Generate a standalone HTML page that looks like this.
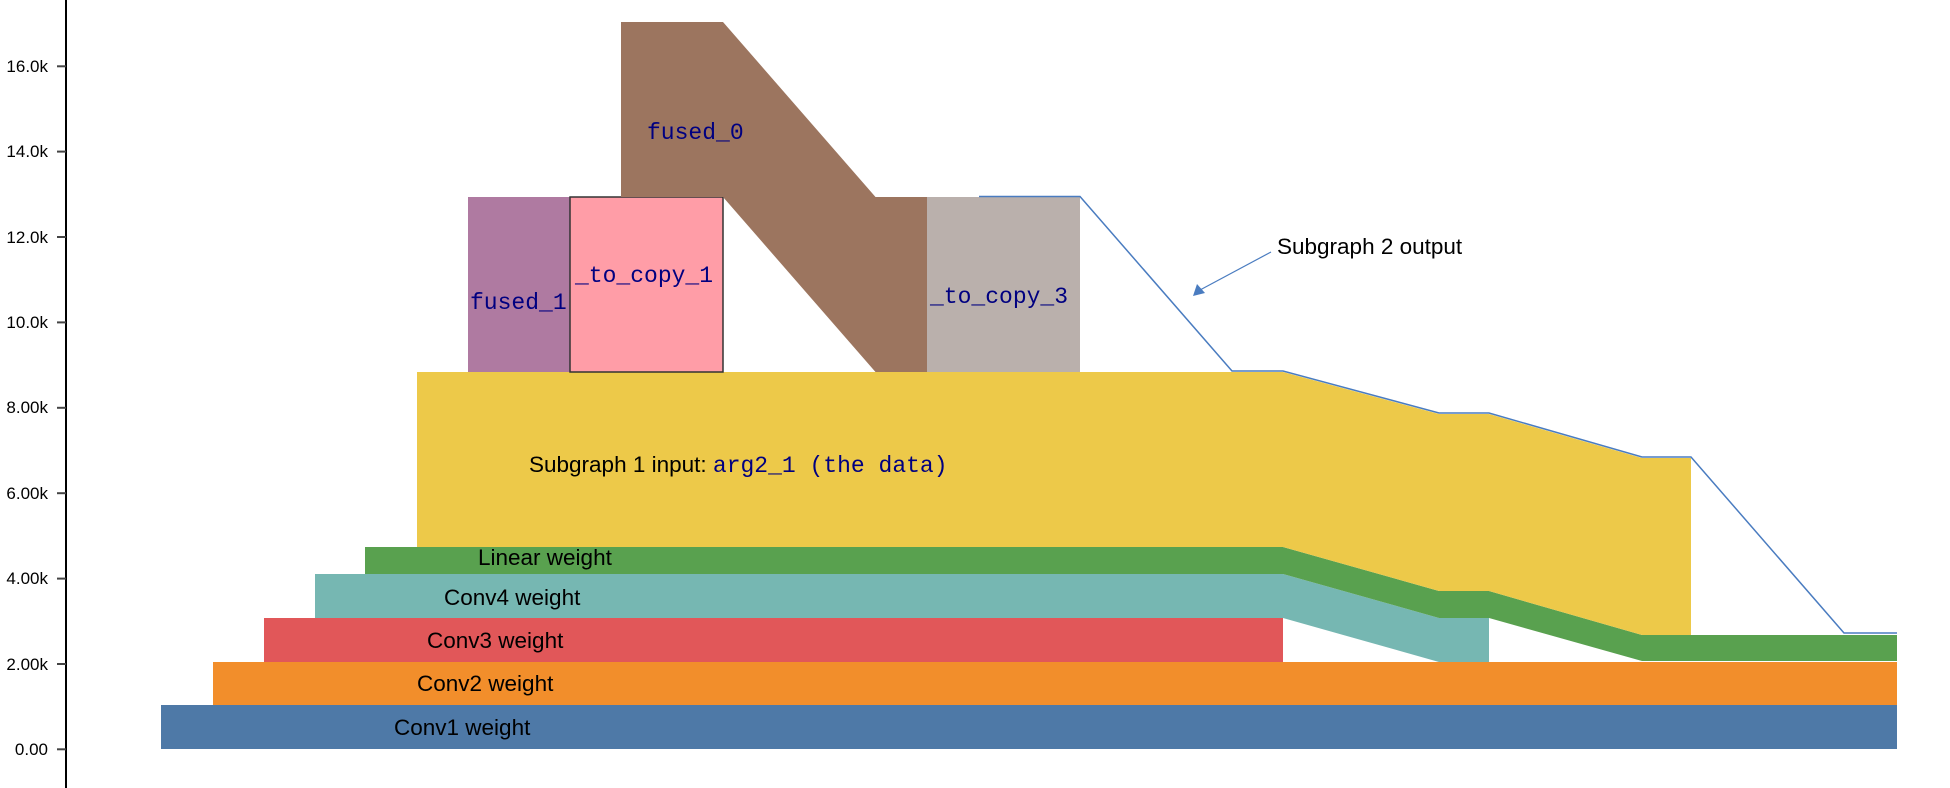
<!DOCTYPE html>
<html><head><meta charset="utf-8"><style>
html,body{margin:0;padding:0;background:#fff;}
svg{display:block;}
.t{font-family:"Liberation Sans",sans-serif;font-size:22.5px;fill:#000;}
.m{font-family:"Liberation Mono",monospace;font-size:23px;fill:#000080;}
.ax{font-family:"Liberation Sans",sans-serif;font-size:17px;fill:#000;}
</style></head><body>
<svg width="1950" height="788" viewBox="0 0 1950 788" xmlns="http://www.w3.org/2000/svg">
<rect width="1950" height="788" fill="#fff"/>
<line x1="66" y1="0" x2="66" y2="788" stroke="#000" stroke-width="2"/>
<g stroke="#444" stroke-width="2">
<line x1="57" y1="66.3" x2="66" y2="66.3"/><line x1="57" y1="151.6" x2="66" y2="151.6"/>
<line x1="57" y1="237" x2="66" y2="237"/><line x1="57" y1="322.4" x2="66" y2="322.4"/>
<line x1="57" y1="407.8" x2="66" y2="407.8"/><line x1="57" y1="493.2" x2="66" y2="493.2"/>
<line x1="57" y1="578.6" x2="66" y2="578.6"/><line x1="57" y1="664" x2="66" y2="664"/>
<line x1="57" y1="749.3" x2="66" y2="749.3"/>
</g>
<g class="ax" text-anchor="end">
<text x="48" y="72">16.0k</text><text x="48" y="157">14.0k</text><text x="48" y="243">12.0k</text>
<text x="48" y="328">10.0k</text><text x="48" y="413">8.00k</text><text x="48" y="499">6.00k</text>
<text x="48" y="584">4.00k</text><text x="48" y="670">2.00k</text><text x="48" y="755">0.00</text>
</g>
<rect x="161" y="705" width="1736" height="44" fill="#4e79a7"/>
<rect x="213" y="662" width="1684" height="43" fill="#f28e2b"/>
<rect x="264" y="618" width="1019" height="44" fill="#e15759"/>
<polygon points="315,574 1283,574 1439,618 1489,618 1489,662 1439,662 1283,618 315,618" fill="#76b7b2"/>
<polygon points="365,547 1283,547 1439,591 1489,591 1642,635 1897,635 1897,661 1642,661 1489,618 1439,618 1283,574 365,574" fill="#59a14f"/>
<polygon points="417,372 1283,372 1439,414 1489,414 1642,458 1691,458 1691,635 1642,635 1489,591 1439,591 1283,547 417,547" fill="#edc949"/>
<rect x="468" y="197" width="102" height="175" fill="#af7aa1"/>
<rect x="570" y="197" width="153" height="175" fill="#ff9da7" stroke="#333" stroke-width="1.5"/>
<polygon points="621,22 723,22 875.5,197 927,197 927,372 875.5,372 723,197 621,197" fill="#9c755f"/>
<rect x="927" y="197" width="153" height="175" fill="#bab0ac"/>
<polyline points="979,196.5 1080,196.5 1232,371 1283,371 1439,413 1489,413 1642,457 1691,457 1844,633 1897,633" fill="none" stroke="#4a7cc0" stroke-width="1.5"/>
<line x1="1271" y1="252" x2="1200" y2="290" stroke="#4a7cc0" stroke-width="1.2"/>
<polygon points="1193,296 1197,284 1205,293" fill="#4a7cc0"/>
<text class="t" x="1277" y="254">Subgraph 2 output</text>
<text class="m" x="647" y="139">fused_0</text>
<text class="m" x="470" y="309">fused_1</text>
<text class="m" x="575" y="282">_to_copy_1</text>
<text class="m" x="930" y="303">_to_copy_3</text>
<text class="t" x="529" y="472">Subgraph 1 input: <tspan class="m">arg2_1 (the data)</tspan></text>
<text class="t" x="478" y="565">Linear weight</text>
<text class="t" x="444" y="605">Conv4 weight</text>
<text class="t" x="427" y="648">Conv3 weight</text>
<text class="t" x="417" y="691">Conv2 weight</text>
<text class="t" x="394" y="735">Conv1 weight</text>
</svg>
</body></html>
